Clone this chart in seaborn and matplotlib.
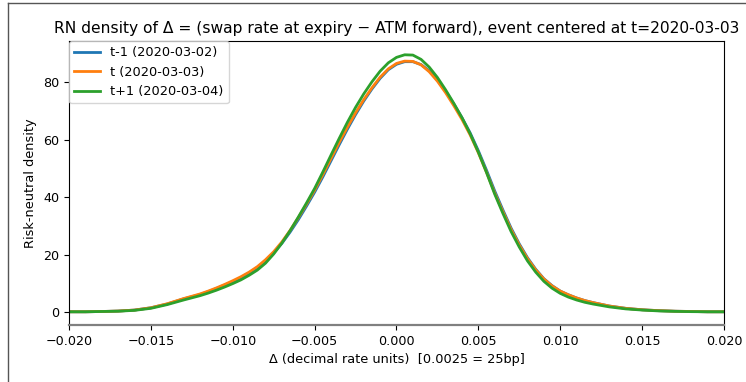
import numpy as np
import pandas as pd
import matplotlib
matplotlib.use("Agg")
import matplotlib.pyplot as plt
from matplotlib.lines import Line2D
import seaborn as sns

x_vals = [-0.020, -0.019, -0.018, -0.017, -0.016, -0.015, -0.014, -0.013,
          -0.012, -0.0115, -0.011, -0.0105, -0.010, -0.0095, -0.009, -0.0085,
          -0.008, -0.0075, -0.007, -0.0065, -0.006, -0.0055, -0.005, -0.0045,
          -0.004, -0.0035, -0.003, -0.0025, -0.002, -0.0015, -0.001, -0.0005,
          0.000, 0.0005, 0.001, 0.0015, 0.002, 0.0025, 0.003, 0.0035,
          0.004, 0.0045, 0.005, 0.0055, 0.006, 0.0065, 0.007, 0.0075,
          0.008, 0.0085, 0.009, 0.0095, 0.010, 0.0105, 0.011, 0.0115,
          0.012, 0.013, 0.014, 0.015, 0.016, 0.017, 0.018, 0.019, 0.020]

dens_tm1 = [0.1, 0.1, 0.2, 0.35, 0.7, 1.5, 2.8, 4.6,
            6.1, 7.1, 8.2, 9.4, 10.6, 12.0, 13.6, 15.5,
            17.8, 20.6, 23.9, 27.8, 32.1, 36.8, 41.7, 47.0,
            52.6, 58.2, 63.6, 68.7, 73.4, 77.6, 81.3, 84.3,
            86.2, 87.1, 87.1, 86.1, 83.9, 80.7, 76.8, 72.4,
            67.6, 62.3, 56.1, 49.3, 42.1, 35.5, 29.2, 23.7,
            18.9, 14.9, 11.6, 9.2, 7.3, 6.0, 4.9, 4.0,
            3.3, 2.1, 1.3, 0.8, 0.5, 0.3, 0.2, 0.1, 0.1]

dens_t = [0.1, 0.1, 0.2, 0.35, 0.7, 1.5, 2.9, 4.7,
          6.3, 7.3, 8.4, 9.6, 10.9, 12.3, 13.9, 15.8,
          18.2, 21.0, 24.4, 28.4, 32.8, 37.5, 42.4, 47.8,
          53.4, 59.0, 64.3, 69.3, 73.9, 78.0, 81.7, 84.6,
          86.5, 87.3, 87.2, 86.0, 83.6, 80.3, 76.3, 71.8,
          67.0, 61.6, 55.4, 48.6, 41.4, 34.9, 28.7, 23.3,
          18.6, 14.7, 11.5, 9.1, 7.3, 6.0, 4.9, 4.0,
          3.3, 2.1, 1.3, 0.8, 0.5, 0.3, 0.2, 0.1, 0.1]

dens_tp1 = [0.1, 0.1, 0.2, 0.3, 0.6, 1.3, 2.6, 4.2,
            5.7, 6.6, 7.6, 8.7, 9.9, 11.2, 12.8, 14.6,
            17.0, 20.2, 24.0, 28.3, 33.0, 37.9, 43.0, 48.7,
            54.6, 60.4, 66.0, 71.2, 75.9, 80.1, 83.8, 86.7,
            88.6, 89.5, 89.4, 87.9, 85.2, 81.6, 77.3, 72.6,
            67.6, 62.0, 55.6, 48.5, 41.0, 34.3, 28.0, 22.6,
            17.8, 13.9, 10.7, 8.3, 6.5, 5.2, 4.2, 3.4,
            2.8, 1.8, 1.1, 0.7, 0.4, 0.25, 0.15, 0.1, 0.1]

labels = ["t-1 (2020-03-02)", "t (2020-03-03)", "t+1 (2020-03-04)"]
series = [dens_tm1, dens_t, dens_tp1]
x_ticks = [-0.020, -0.015, -0.010, -0.005, 0.000, 0.005, 0.010, 0.015, 0.020]
y_ticks = [0, 20, 40, 60, 80]

df = pd.concat([pd.DataFrame({"delta": x_vals, "density": s, "day": lab})
                for s, lab in zip(series, labels)], ignore_index=True)

fig = plt.figure(figsize=(7.46, 3.82), dpi=100)
ax = fig.add_axes([0.0925, 0.1492, 0.878, 0.7435])

palette = ["#1f77b4", "#ff7f0e", "#2ca02c"]
sns.lineplot(data=df, x="delta", y="density", hue="day", hue_order=labels,
             palette=palette, linewidth=2, ax=ax, sort=True)

ax.set_xlim(-0.02, 0.02)
ax.set_ylim(-4.5, 94.3)
ax.set_xticks(x_ticks)
ax.set_xticklabels([f"{v:.3f}".replace("-", "\u2212") for v in x_ticks], fontsize=9.2)
ax.set_yticks(y_ticks)
ax.set_yticklabels([str(v) for v in y_ticks], fontsize=9.2)
ax.set_xlabel("Δ (decimal rate units)  [0.0025 = 25bp]", fontsize=9.3)
ax.set_ylabel("Risk-neutral density", fontsize=9.3)
ax.set_title("RN density of Δ = (swap rate at expiry − ATM forward), event centered at t=2020-03-03",
             fontsize=11.2)
ax.spines["bottom"].set_color("#808080")
ax.spines["bottom"].set_linewidth(1.6)
leg = ax.legend(loc="upper left", borderaxespad=0.0, fontsize=9.3)
leg.set_title(None)

W, H = 746, 382
fig.add_artist(Line2D([8 / W, 8 / W], [0, 1 - 3 / H], color="#555555", linewidth=1))
fig.add_artist(Line2D([8 / W, 1], [1 - 3 / H, 1 - 3 / H], color="#555555", linewidth=1))

fig.savefig("out.png", dpi=100)
